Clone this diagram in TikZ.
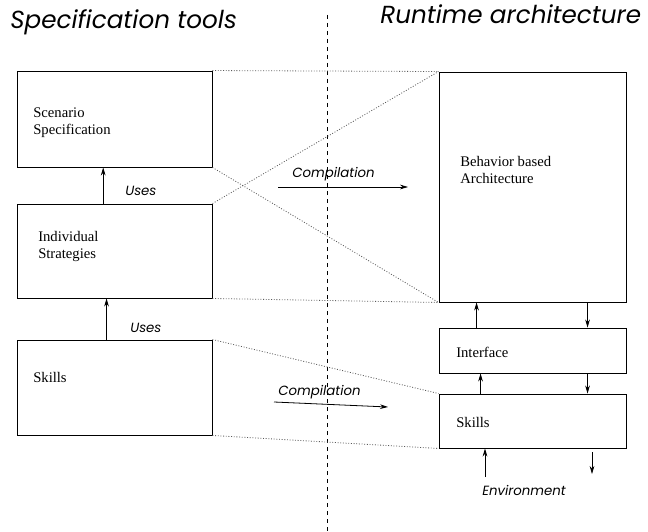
\documentclass[tikz,border=0pt]{standalone}
\usepackage{fontspec}
\setmainfont{Liberation Serif}
\newfontfamily\gothic{Poppins}
\usepackage{tikz}
\usetikzlibrary{arrows.meta,positioning,fit,calc}

\begin{document}
\begin{tikzpicture}[x=0.75pt,y=-0.75pt,
          box/.style={draw,line width=0.7pt,inner sep=0pt},
          boxtext/.style={anchor=base west,align=left,inner sep=0pt,
                          font=\fontsize{11}{12.75}\selectfont},
          title/.style={anchor=base west,inner sep=0pt,
                        font=\gothic\itshape\fontsize{18.5}{20}\selectfont},
          lbl/.style={anchor=base west,inner sep=0pt,
                      font=\gothic\itshape\fontsize{10}{12}\selectfont},
          arr/.style={-{Stealth[length=6pt,width=3.5pt]},line width=0.6pt},
          link/.style={gray!70!black,line width=0.6pt,dash pattern=on 0.7pt off 1.3pt}]
  \useasboundingbox (0,0) rectangle (648,531);

  % titles and divider
  \node[title] (spec) at (10,29) {Specification tools};
  \node[title] (run) at (380,24) {Runtime architecture};
  \draw[dashed,line width=0.6pt] (327,15) -- (327,531);

  % specification side
  \node[box,fit={(17,71)(212,167)}] (scen) {};
  \node[box,fit={(17,204)(212,298)}] (indiv) {};
  \node[box,fit={(17,340)(212,435)}] (skillsL) {};
  \node[boxtext] (scentxt) at (33,134) {Scenario\\Specification};
  \node[boxtext] (indivtxt) at (38,258) {Individual\\Strategies};
  \node[boxtext] (skillsLtxt) at (33,382) {Skills};

  % runtime side
  \node[box,fit={(439,72)(626,302)}] (behav) {};
  \node[box,fit={(439,328)(626,373)}] (iface) {};
  \node[box,fit={(439,394)(626,448)}] (skillsR) {};
  \node[boxtext] (behavtxt) at (460,183) {Behavior based\\Architecture};
  \node[boxtext] (ifacetxt) at (456,357) {Interface};
  \node[boxtext] (skillsRtxt) at (456,427) {Skills};

  % uses
  \draw[arr] ([xshift=65pt]indiv.north west) -- ([xshift=65pt]scen.south west);
  \draw[arr] ([xshift=67.5pt]skillsL.north west) -- ([xshift=67.5pt]indiv.south west);
  \node[lbl] (uses1) at (125,195) {Uses};
  \node[lbl] (uses2) at (130,332) {Uses};

  % compilation
  \coordinate (c1a) at (278,187);
  \coordinate (c1b) at (408,187);
  \coordinate (c2a) at (274,402);
  \coordinate (c2b) at (388,407);
  \draw[arr] (c1a) -- (c1b);
  \draw[arr] (c2a) -- (c2b);
  \node[lbl] (comp1) at (292,177) {Compilation};
  \node[lbl] (comp2) at (278,395) {Compilation};

  % dotted correspondences
  \draw[link] (scen.north east) -- (behav.north west);
  \draw[link] (scen.south east) -- (behav.south west);
  \draw[link] (indiv.north east) -- (behav.north west);
  \draw[link] (indiv.south east) -- (behav.south west);
  \draw[link] (skillsL.north east) -- (skillsR.north west);
  \draw[link] (skillsL.south east) -- (skillsR.south west);

  % runtime flow
  \draw[arr] ([xshift=28.5pt]iface.north west) -- ([xshift=28.5pt]behav.south west);
  \draw[arr] ([xshift=111.75pt]behav.south west) -- ([xshift=111.75pt]iface.north west);
  \draw[arr] ([xshift=31.5pt]skillsR.north west) -- ([xshift=31.5pt]iface.south west);
  \draw[arr] ([xshift=111.75pt]iface.south west) -- ([xshift=111.75pt]skillsR.north west);

  % environment
  \coordinate (envin) at (485,477);
  \coordinate (envout1) at (592,452);
  \coordinate (envout2) at (592,474);
  \draw[arr] (envin) -- (envin |- skillsR.south);
  \draw[arr] (envout1) -- (envout2);
  \node[lbl] (env) at (482,495) {Environment};
\end{tikzpicture}
\end{document}
